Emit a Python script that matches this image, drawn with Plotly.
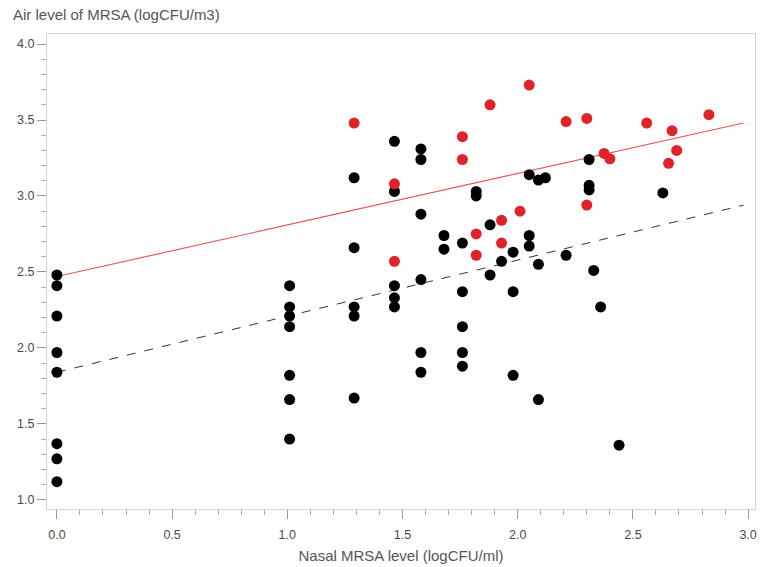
import plotly.graph_objects as go
import numpy as np

# Black group (nasal level, air level)
black_x = [0, 0, 0, 0, 0, 0, 0, 0,
           1.01, 1.01, 1.01, 1.01, 1.01, 1.01, 1.01,
           1.29, 1.29, 1.29, 1.29, 1.29,
           1.465, 1.465, 1.465, 1.465, 1.465,
           1.58, 1.58, 1.58, 1.58, 1.58, 1.58,
           1.68, 1.68,
           1.76, 1.76, 1.76, 1.76, 1.76,
           1.82, 1.82,
           1.88, 1.88,
           1.93,
           1.98, 1.98, 1.98,
           2.05, 2.05, 2.05,
           2.09, 2.09, 2.09,
           2.12,
           2.21,
           2.31, 2.31, 2.31,
           2.33, 2.36, 2.44, 2.63]
black_y = [2.48, 2.41, 2.21, 1.97, 1.84, 1.37, 1.27, 1.12,
           2.41, 2.27, 2.21, 2.14, 1.82, 1.66, 1.40,
           3.12, 2.66, 2.27, 2.21, 1.67,
           3.36, 3.03, 2.41, 2.33, 2.27,
           3.31, 3.24, 2.88, 2.45, 1.97, 1.84,
           2.74, 2.65,
           2.69, 2.37, 2.14, 1.97, 1.88,
           3.03, 3.00,
           2.81, 2.48,
           2.57,
           2.63, 2.37, 1.82,
           3.14, 2.74, 2.67,
           3.105, 2.55, 1.66,
           3.12,
           2.61,
           3.24, 3.07, 3.04,
           2.51, 2.27, 1.36, 3.02]

# Red group
red_x = [1.29, 1.465, 1.465, 1.76, 1.76, 1.82, 1.82, 1.88, 1.93, 1.93,
         2.01, 2.05, 2.21, 2.30, 2.30, 2.375, 2.40, 2.56, 2.655, 2.67,
         2.69, 2.83]
red_y = [3.48, 3.08, 2.57, 3.39, 3.24, 2.75, 2.61, 3.60, 2.84, 2.69,
         2.90, 3.73, 3.49, 3.51, 2.94, 3.28, 3.245, 3.48, 3.215, 3.43,
         3.30, 3.535]

# Fitted regression lines (intercept, slope) and their x extent
red_intercept, red_slope = 2.47, 0.339
black_intercept, black_slope = 1.84, 0.369
fit_x = [0.0, 2.98]

x_ticks = [0.0, 0.5, 1.0, 1.5, 2.0, 2.5, 3.0]
y_ticks = [1.0, 1.5, 2.0, 2.5, 3.0, 3.5, 4.0]

FONT = "Liberation Sans, Arial"
fx = np.array(fit_x)
fig = go.Figure()
fig.add_trace(go.Scatter(x=fx, y=black_intercept + black_slope * fx, mode="lines",
                         line=dict(color="#333333", width=1, dash="dash"),
                         hoverinfo="skip"))
fig.add_trace(go.Scatter(x=fx, y=red_intercept + red_slope * fx, mode="lines",
                         line=dict(color="#e05a5a", width=1.2),
                         hoverinfo="skip"))
fig.add_trace(go.Scatter(x=black_x, y=black_y, mode="markers",
                         marker=dict(color="#000000", size=11)))
fig.add_trace(go.Scatter(x=red_x, y=red_y, mode="markers",
                         marker=dict(color="#e0222a", size=11)))

axis_common = dict(
    showgrid=False, zeroline=False, showline=True, linecolor="#d4d4d4",
    linewidth=1, mirror=True, ticks="outside", ticklen=9, tickcolor="#999999",
    tickfont=dict(family=FONT, size=12.5, color="#4a4a4a"),
)
fig.update_xaxes(range=[-0.043, 3.03], tickvals=x_ticks,
                 ticktext=[f"{v:.1f}" for v in x_ticks],
                 ticklabelstandoff=5,
                 minor=dict(dtick=0.1, ticks="outside", ticklen=5, tickcolor="#aaaaaa"),
                 title=dict(text="Nasal MRSA level (logCFU/ml)", standoff=9,
                            font=dict(family=FONT, size=15, color="#555555")),
                 **axis_common)
fig.update_yaxes(range=[0.94, 4.066], tickvals=y_ticks,
                 ticktext=[f"{v:.1f}" for v in y_ticks],
                 minor=dict(dtick=0.1, ticks="outside", ticklen=5, tickcolor="#aaaaaa"),
                 **axis_common)
fig.add_annotation(text="Air level of MRSA (logCFU/m3)", xref="paper", yref="paper",
                   x=0, y=1, xanchor="left", yanchor="bottom", xshift=-36, yshift=9,
                   showarrow=False,
                   font=dict(family=FONT, size=15, color="#555555"))
fig.update_layout(width=760, height=567, margin=dict(l=47, r=3, t=34, b=58),
                  paper_bgcolor="white", plot_bgcolor="white", showlegend=False)
fig.write_html("out.html")
